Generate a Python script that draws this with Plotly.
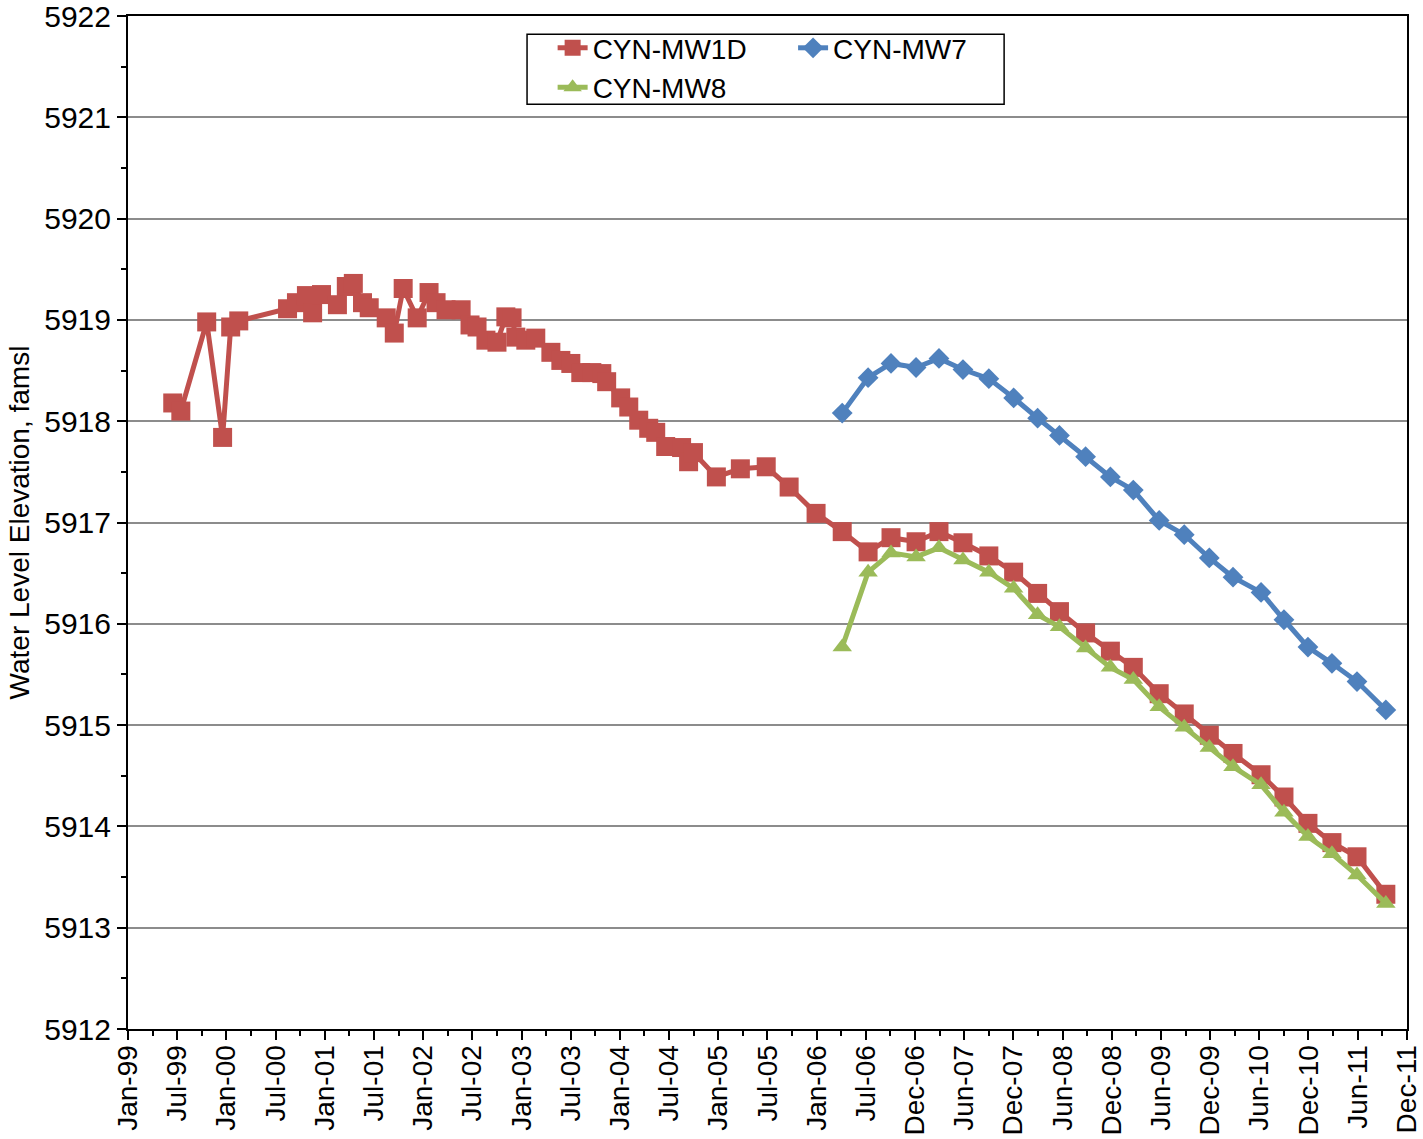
import pandas as pd
import plotly.graph_objects as go

# ---------------- data ----------------
mw1d_dates = [
    "1999-06-16", "1999-07-16", "1999-10-20", "1999-12-18",
    "2000-01-17", "2000-02-16", "2000-08-15", "2000-09-17", "2000-10-24", "2000-11-16", "2000-12-19",
    "2001-02-16", "2001-03-21", "2001-04-16", "2001-05-20", "2001-06-14", "2001-08-16", "2001-09-15",
    "2001-10-18", "2001-12-09",
    "2002-01-22", "2002-02-17", "2002-03-26", "2002-05-21", "2002-06-23", "2002-07-19", "2002-08-21",
    "2002-10-01", "2002-11-03", "2002-11-26", "2002-12-10",
    "2003-01-16", "2003-02-22", "2003-04-19", "2003-05-26", "2003-07-02", "2003-08-08", "2003-09-18",
    "2003-10-25", "2003-11-12",
    "2004-01-03", "2004-02-02", "2004-03-10", "2004-04-16", "2004-05-12", "2004-06-18", "2004-08-16",
    "2004-09-11", "2004-09-29", "2004-12-23",
    "2005-03-22", "2005-06-26", "2005-09-19", "2005-12-28",
    "2006-04-04", "2006-07-09", "2006-10-02", "2007-01-03", "2007-03-29", "2007-06-26", "2007-09-30",
    "2007-12-31", "2008-03-29", "2008-06-18", "2008-09-23", "2008-12-24", "2009-03-19", "2009-06-23",
    "2009-09-24", "2009-12-26", "2010-03-24", "2010-07-06", "2010-09-29", "2010-12-27", "2011-03-26",
    "2011-06-27", "2011-10-12",
]
mw1d_values = [
    5918.18, 5918.10, 5918.98, 5917.84,
    5918.93, 5918.99, 5919.11, 5919.17, 5919.24, 5919.07, 5919.25,
    5919.15, 5919.33, 5919.36, 5919.17, 5919.12, 5919.02, 5918.87, 5919.31, 5919.02,
    5919.27, 5919.17, 5919.10, 5919.10, 5918.95, 5918.93, 5918.80, 5918.78, 5919.03, 5919.02, 5918.83,
    5918.80, 5918.82, 5918.68, 5918.60, 5918.57, 5918.48, 5918.48, 5918.47, 5918.39,
    5918.23, 5918.14, 5918.01, 5917.93, 5917.89, 5917.75, 5917.74, 5917.60, 5917.69, 5917.45,
    5917.53, 5917.55, 5917.35, 5917.09,
    5916.91, 5916.71, 5916.85, 5916.81, 5916.91, 5916.80, 5916.67, 5916.51, 5916.30, 5916.12,
    5915.91, 5915.73, 5915.57, 5915.31, 5915.11, 5914.90, 5914.72, 5914.51, 5914.29, 5914.03,
    5913.84, 5913.70, 5913.33,
]

mw7_mw8_dates = [
    "2006-04-04", "2006-07-09", "2006-10-02", "2007-01-03", "2007-03-29", "2007-06-26", "2007-09-30",
    "2007-12-31", "2008-03-29", "2008-06-18", "2008-09-23", "2008-12-24", "2009-03-19", "2009-06-23",
    "2009-09-24", "2009-12-26", "2010-03-24", "2010-07-06", "2010-09-29", "2010-12-27", "2011-03-26",
    "2011-06-27", "2011-10-12",
]
mw7_values = [
    5918.08, 5918.43, 5918.57, 5918.53, 5918.62, 5918.51, 5918.42, 5918.23, 5918.03, 5917.86,
    5917.65, 5917.45, 5917.32, 5917.02, 5916.88, 5916.65, 5916.46, 5916.31, 5916.04, 5915.77,
    5915.61, 5915.43, 5915.15,
]
mw8_values = [
    5915.77, 5916.51, 5916.70, 5916.66, 5916.75, 5916.63, 5916.51, 5916.35, 5916.09, 5915.97,
    5915.76, 5915.57, 5915.45, 5915.18, 5914.98, 5914.78, 5914.59, 5914.41, 5914.14, 5913.90,
    5913.73, 5913.52, 5913.24,
]

x_tick_labels = [
    "Jan-99", "Jul-99", "Jan-00", "Jul-00", "Jan-01", "Jul-01", "Jan-02", "Jul-02", "Jan-03",
    "Jul-03", "Jan-04", "Jul-04", "Jan-05", "Jul-05", "Jan-06", "Jul-06", "Dec-06", "Jun-07",
    "Dec-07", "Jun-08", "Dec-08", "Jun-09", "Dec-09", "Jun-10", "Dec-10", "Jun-11", "Dec-11",
]

# ---------------- styling ----------------
RED = "#C0504D"
BLUE = "#4F81BD"
GREEN = "#9BBB59"
FONT = "Liberation Sans, Arial, sans-serif"

axis_start = pd.Timestamp("1999-01-01")
step = pd.Timedelta(days=182.5)
tickvals = [axis_start + i * step for i in range(len(x_tick_labels))]
minor_vals = [axis_start + (i + 0.5) * step for i in range(len(x_tick_labels) - 1)]
x_end = tickvals[-1] + pd.Timedelta(hours=12)

fig = go.Figure()
fig.add_trace(go.Scatter(
    x=pd.to_datetime(mw1d_dates), y=mw1d_values, name="CYN-MW1D", mode="lines+markers",
    line=dict(color=RED, width=5), marker=dict(symbol="square", size=19, color=RED),
    legend="legend",
))
fig.add_trace(go.Scatter(
    x=pd.to_datetime(mw7_mw8_dates), y=mw7_values, name="CYN-MW7", mode="lines+markers",
    line=dict(color=BLUE, width=5), marker=dict(symbol="diamond", size=16, color=BLUE),
    legend="legend2",
))
fig.add_trace(go.Scatter(
    x=pd.to_datetime(mw7_mw8_dates), y=mw8_values, name="CYN-MW8", mode="lines+markers",
    line=dict(color=GREEN, width=5), marker=dict(symbol="triangle-up", size=17, color=GREEN),
    legend="legend",
))

fig.update_layout(
    width=1423, height=1139,
    margin=dict(l=128, r=16, t=16, b=110, autoexpand=False),
    paper_bgcolor="white", plot_bgcolor="white",
    font=dict(family=FONT, size=28, color="black"),
    showlegend=True,
    legend=dict(x=0.332, y=0.993, xanchor="left", yanchor="top", bgcolor="rgba(0,0,0,0)",
                font=dict(size=28), tracegroupgap=0, itemwidth=30),
    legend2=dict(x=0.52, y=0.993, xanchor="left", yanchor="top", bgcolor="rgba(0,0,0,0)",
                 font=dict(size=28), itemwidth=30),
    shapes=[dict(type="rect", xref="paper", yref="paper", x0=0.312, x1=0.685, y0=0.913, y1=0.982,
                 line=dict(color="black", width=1.5), fillcolor="white", layer="below")],
)

fig.update_xaxes(
    type="date", range=[axis_start, x_end], automargin=False,
    tickmode="array", tickvals=tickvals, ticktext=x_tick_labels, tickangle=-90,
    ticks="outside", ticklen=9, tickwidth=2, tickcolor="black",
    minor=dict(ticks="outside", tickvals=minor_vals, ticklen=5, tickwidth=2, tickcolor="black"),
    showline=True, linewidth=2, linecolor="black", mirror=True,
    showgrid=False, zeroline=False, ticklabeloverflow="allow", ticklabelstandoff=-6,
    tickfont=dict(family=FONT, size=28),
)
fig.update_yaxes(
    range=[5912, 5922], tickmode="linear", tick0=5912, dtick=1, automargin=False,
    ticks="outside", ticklen=9, tickwidth=2, tickcolor="black",
    minor=dict(ticks="outside", dtick=0.5, ticklen=5, tickwidth=2, tickcolor="black", showgrid=False),
    showline=True, linewidth=2, linecolor="black", mirror=True,
    showgrid=True, gridcolor="#8C8C8C", gridwidth=1.5, zeroline=False, ticklabeloverflow="allow",
    tickfont=dict(family=FONT, size=30),
    title=dict(text="Water Level Elevation, famsl", font=dict(family=FONT, size=28), standoff=6),
)

fig.write_html("out.html", config={"displayModeBar": False},
               post_script="document.body.style.margin='0';")
